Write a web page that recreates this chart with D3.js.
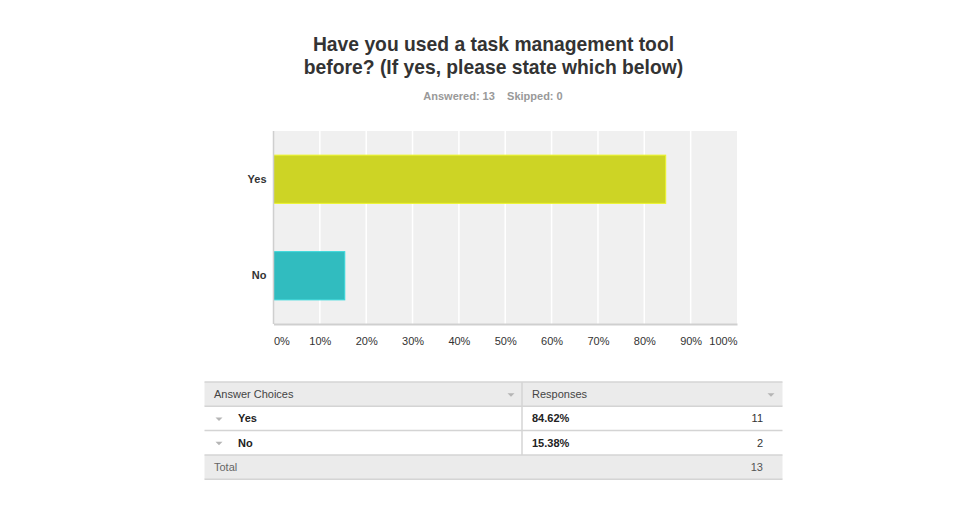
<!DOCTYPE html>
<html>
<head>
<meta charset="utf-8">
<script src="https://cdn.jsdelivr.net/npm/d3@7"></script>
<style>
  html, body { margin: 0; padding: 0; background: #fff; }
  svg { display: block; font-family: "Liberation Sans", Arial, sans-serif; }
</style>
</head>
<body>
<div id="chart"></div>
<script>
// data
var titleLines = ['Have you used a task management tool', 'before? (If yes, please state which below)'];
var answered = 13;
var skipped = 0;
var categories = ['Yes', 'No'];
var shares = [0.8462, 0.1538];
var counts = [11, 2];
var barColors = ['#cdd425', '#31bcbf'];
var tickValues = [0, 0.1, 0.2, 0.3, 0.4, 0.5, 0.6, 0.7, 0.8, 0.9, 1];

var width = 960, height = 527;
var svg = d3.select('#chart').append('svg')
    .attr('width', width)
    .attr('height', height);

// title
svg.append('g').selectAll('text')
    .data(titleLines)
    .enter()
    .append('text')
    .attr('x', 493.5)
    .attr('y', function(d, i) { return 51 + i * 23; })
    .attr('text-anchor', 'middle')
    .style('font-size', '19.3px')
    .style('font-weight', 'bold')
    .style('fill', '#333')
    .text(function(d) { return d; });

svg.append('text')
    .attr('x', 493)
    .attr('y', 100)
    .attr('text-anchor', 'middle')
    .style('font-size', '11px')
    .style('font-weight', 'bold')
    .style('fill', '#999')
    .attr('xml:space', 'preserve')
    .text('Answered: ' + answered + '    Skipped: ' + skipped);

// chart area
var plot = { left: 273.5, right: 737, top: 131, bottom: 324 };

var x = d3.scaleLinear().domain([0, 1]).range([plot.left, plot.right]);
var y = d3.scaleBand().domain(categories)
    .range([plot.top, plot.bottom])
    .paddingInner(0.5)
    .paddingOuter(0.25);

svg.append('rect')
    .attr('x', plot.left)
    .attr('y', plot.top)
    .attr('width', plot.right - plot.left)
    .attr('height', plot.bottom - plot.top)
    .attr('fill', '#f0f0f0');

// grid lines
svg.append('g').selectAll('line')
    .data(tickValues.slice(1, -1))
    .enter()
    .append('line')
    .attr('x1', function(d) { return x(d); })
    .attr('x2', function(d) { return x(d); })
    .attr('y1', plot.top)
    .attr('y2', plot.bottom)
    .attr('stroke', '#fff')
    .attr('stroke-width', 1.5);

// bars
svg.append('g').selectAll('rect')
    .data(categories)
    .enter()
    .append('rect')
    .attr('x', x(0))
    .attr('y', function(d) { return y(d); })
    .attr('width', function(d, i) { return x(shares[i]) - x(0); })
    .attr('height', y.bandwidth())
    .attr('fill', function(d, i) { return barColors[i]; })
    .attr('stroke', function(d, i) { return d3.color(barColors[i]).brighter(0.4); })
    .attr('stroke-width', 1);

// axis lines
svg.append('line')
    .attr('x1', plot.left).attr('x2', plot.left)
    .attr('y1', plot.top).attr('y2', plot.bottom)
    .attr('stroke', '#cfcfcf').attr('stroke-width', 1.5);

// x axis
var xAxis = svg.append('g')
    .attr('transform', 'translate(0,' + plot.bottom + ')')
    .call(d3.axisBottom(x).tickValues(tickValues).tickFormat(d3.format('.0%')).tickSize(0).tickPadding(13));
xAxis.select('.domain').attr('stroke', '#cfcfcf').attr('stroke-width', 2);
xAxis.selectAll('text')
    .style('font-size', '11px')
    .style('font-family', '"Liberation Sans", Arial, sans-serif')
    .style('fill', '#333')
    .attr('text-anchor', function(d, i) {
        if (i === 0) return 'start';
        if (i === tickValues.length - 1) return 'end';
        return 'middle';
    });

// y axis
var yAxis = svg.append('g')
    .attr('transform', 'translate(' + plot.left + ',0)')
    .call(d3.axisLeft(y).tickSize(0).tickPadding(7));
yAxis.select('.domain').remove();
yAxis.selectAll('text')
    .style('font-size', '11px')
    .style('font-weight', 'bold')
    .style('font-family', '"Liberation Sans", Arial, sans-serif')
    .style('fill', '#333');

// table
var tbl = { left: 204.5, right: 782.5, split: 522, top: 382, rowH: 24.3 };
var t = svg.append('g').style('font-size', '11px');

function tri(g, cx, cy) {
    g.append('path')
        .attr('d', 'M' + (cx - 3.5) + ',' + (cy - 1.5) + 'L' + (cx + 3.5) + ',' + (cy - 1.5) + 'L' + cx + ',' + (cy + 2) + 'Z')
        .attr('fill', '#b5b5b5');
}

var rows = ['header'].concat(categories).concat(['total']);
rows.forEach(function(r, i) {
    var y0 = tbl.top + i * tbl.rowH;
    var shaded = (r === 'header' || r === 'total');
    t.append('rect')
        .attr('x', tbl.left).attr('y', y0)
        .attr('width', tbl.right - tbl.left).attr('height', tbl.rowH)
        .attr('fill', shaded ? '#ebebeb' : '#fff');
});
// row borders
d3.range(rows.length + 1).forEach(function(i) {
    t.append('line')
        .attr('x1', tbl.left).attr('x2', tbl.right)
        .attr('y1', tbl.top + i * tbl.rowH).attr('y2', tbl.top + i * tbl.rowH)
        .attr('stroke', '#d4d4d4').attr('stroke-width', 1.5);
});
t.append('line')
    .attr('x1', tbl.split).attr('x2', tbl.split)
    .attr('y1', tbl.top).attr('y2', tbl.top + (rows.length - 1) * tbl.rowH)
    .attr('stroke', '#d4d4d4').attr('stroke-width', 1.5);

var mid = function(i) { return tbl.top + i * tbl.rowH + tbl.rowH / 2 + 4; };

t.append('text').attr('x', 214).attr('y', mid(0)).style('fill', '#444').text('Answer Choices');
t.append('text').attr('x', 532).attr('y', mid(0)).style('fill', '#444').text('Responses');
tri(t, 511, mid(0) - 3.5);
tri(t, 771, mid(0) - 3.5);

categories.forEach(function(c, i) {
    var yy = mid(i + 1);
    tri(t, 219, yy - 3.5);
    t.append('text').attr('x', 238).attr('y', yy)
        .style('font-weight', 'bold').style('fill', '#222').text(c);
    t.append('text').attr('x', 532).attr('y', yy)
        .style('font-weight', 'bold').style('fill', '#222').text(d3.format('.2%')(shares[i]));
    t.append('text').attr('x', 763).attr('y', yy)
        .attr('text-anchor', 'end').style('fill', '#333').text(counts[i]);
});

t.append('text').attr('x', 214).attr('y', mid(3)).style('fill', '#666').text('Total');
t.append('text').attr('x', 763).attr('y', mid(3))
    .attr('text-anchor', 'end').style('fill', '#555').text(d3.sum(counts));
</script>
</body>
</html>
